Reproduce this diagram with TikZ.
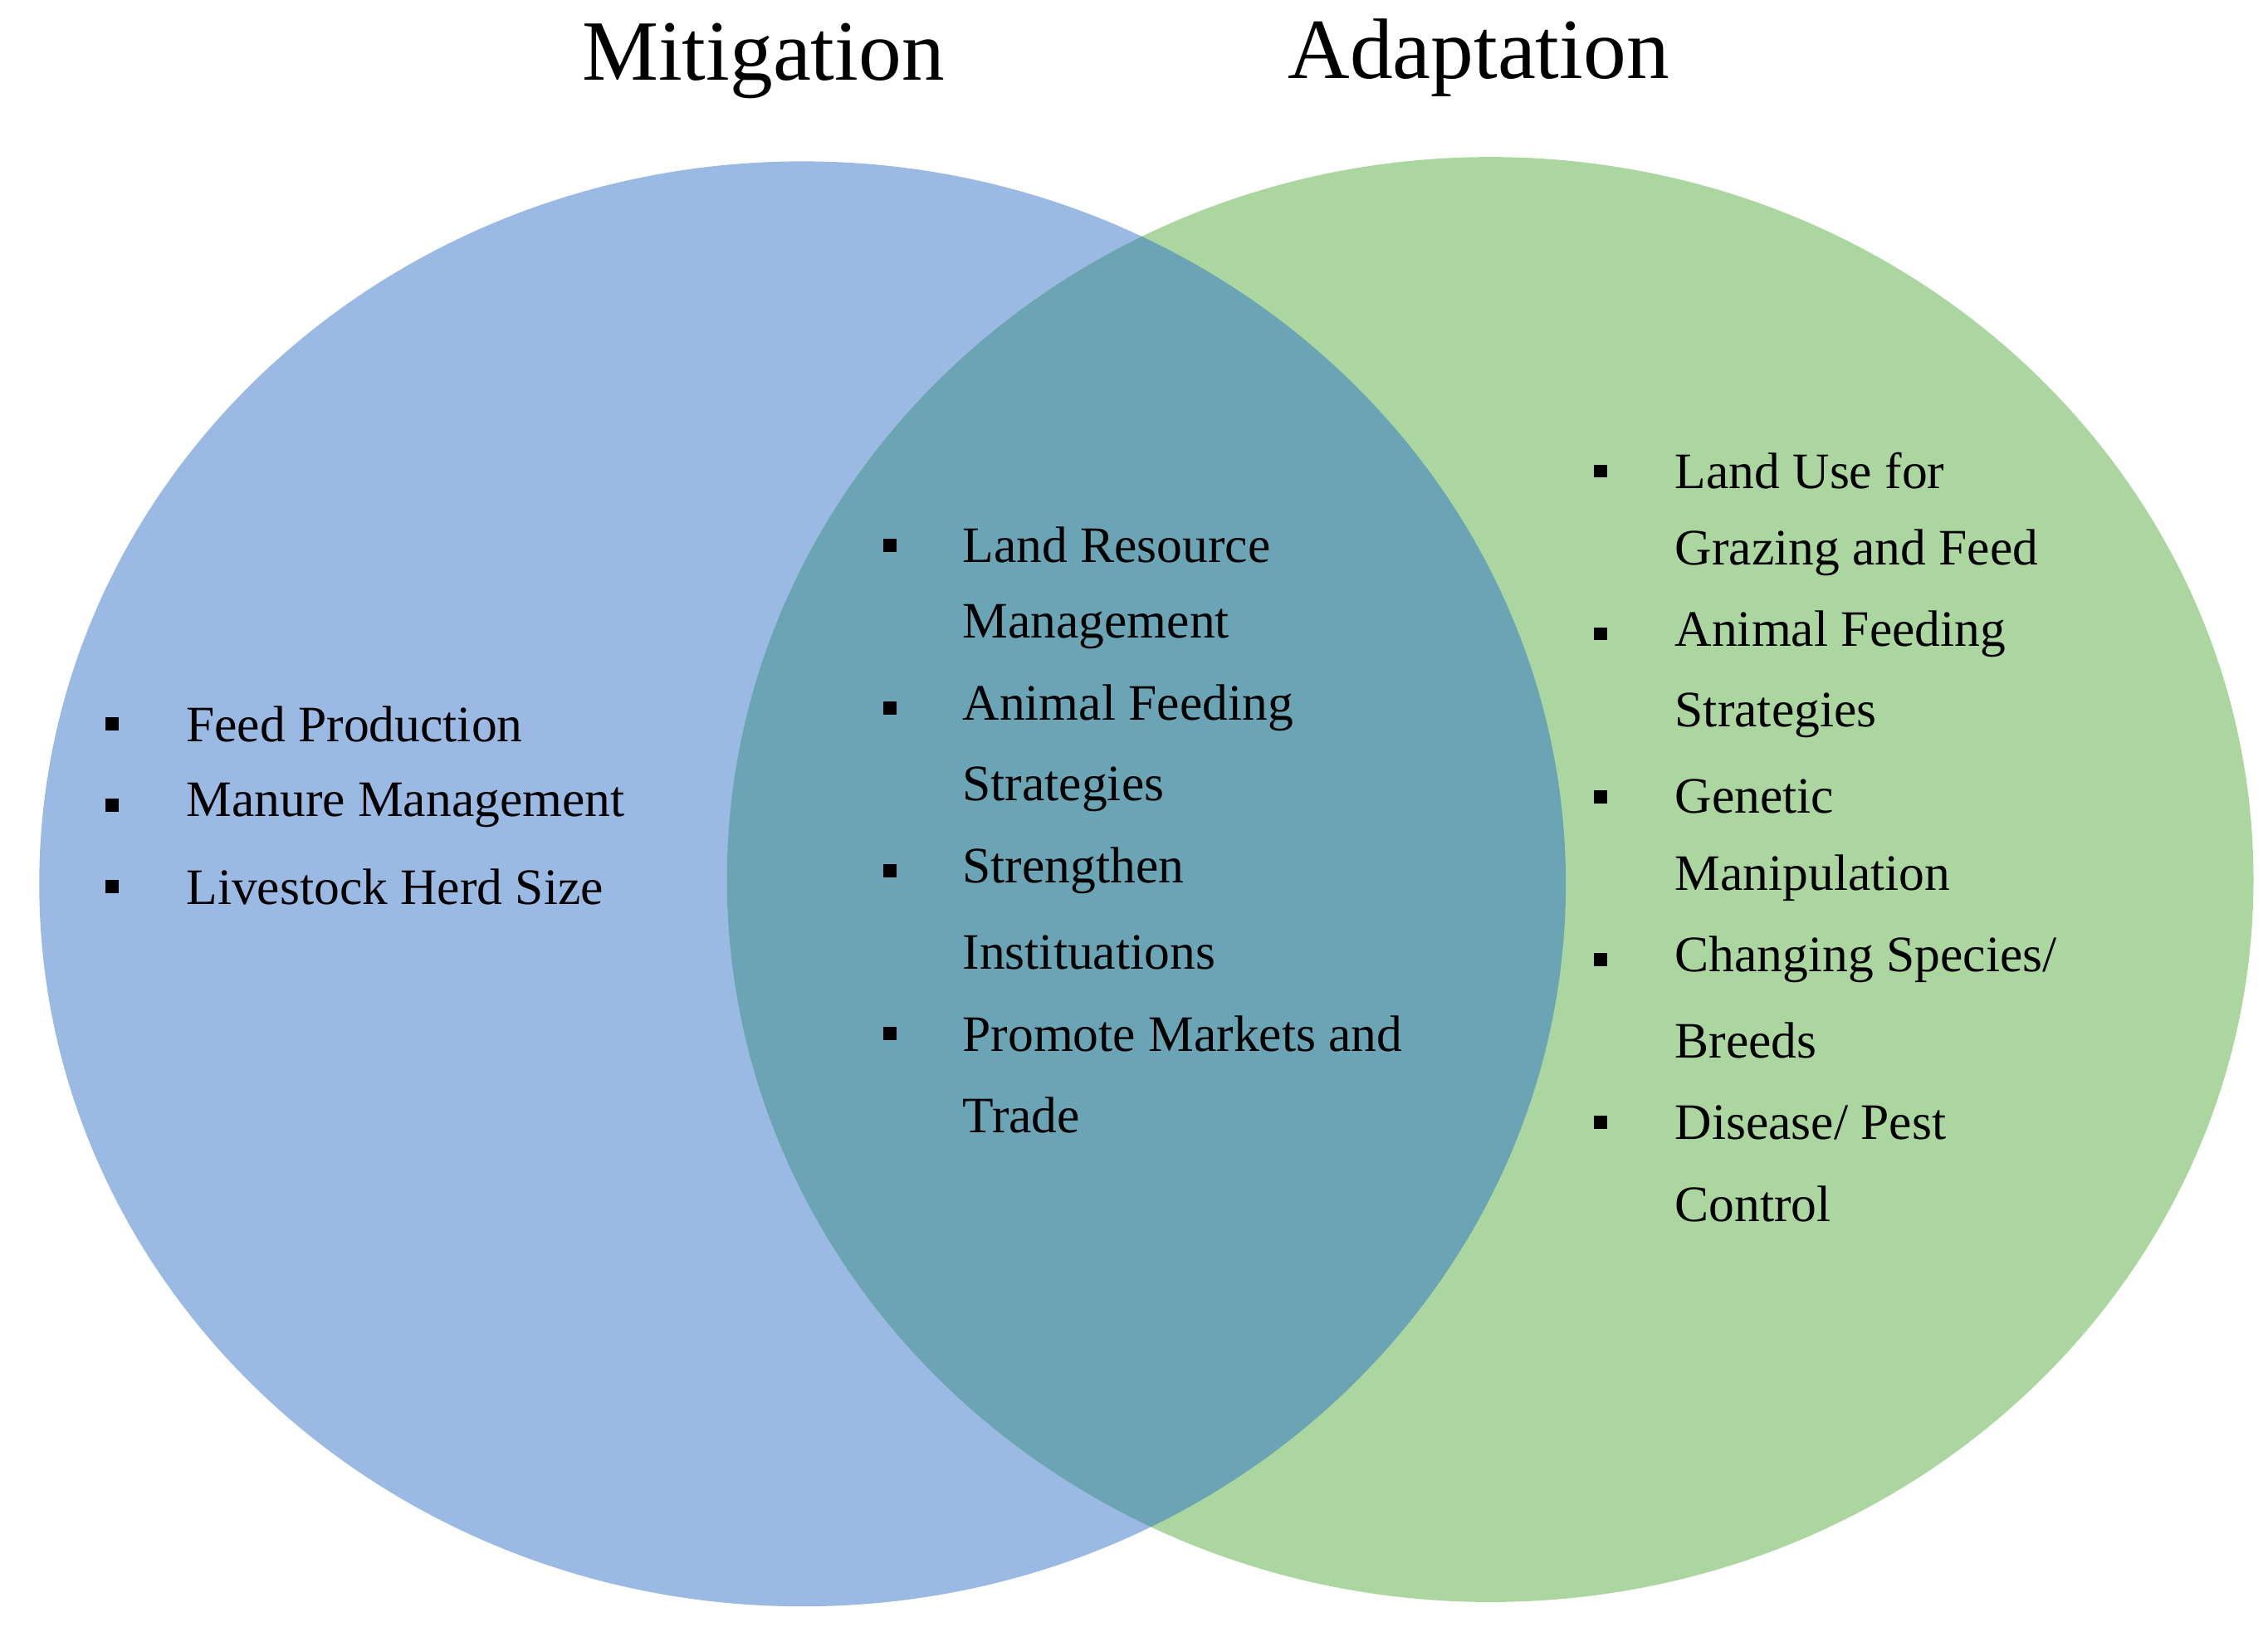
\documentclass[tikz,border=0pt]{standalone}
\usepackage{fontspec}
\setmainfont{Liberation Serif}
\begin{document}
\begin{tikzpicture}[x=0.05cm,y=-0.05cm,
  item/.style={anchor=west,inner sep=0pt,font=\fontsize{50}{60}\selectfont},
  title/.style={inner sep=0pt,font=\fontsize{84}{100}\selectfont},
  bul/.style={fill=black,minimum size=0.45cm,inner sep=0pt,draw=none}]
\useasboundingbox (0,0) rectangle (1560,1119);
\definecolor{cblue}{HTML}{9AB9E3}
\definecolor{cgreen}{HTML}{ABD6A0}
\definecolor{cmid}{HTML}{6BA5B5}
\fill[cblue] (552,608) ellipse [x radius=525, y radius=497];
\fill[cgreen] (1025,605) ellipse [x radius=525, y radius=497];
\begin{scope}
\clip (1025,605) ellipse [x radius=525, y radius=497];
\fill[cmid] (552,608) ellipse [x radius=525, y radius=497];
\end{scope}
\node[title] (tm) at (525,42) {Mitigation};
\node[title] (ta) at (1017,40) {Adaptation};
\foreach \t [count=\i] in {Feed Production,Manure Management,Livestock Herd Size}{
  \node[bul] (lb\i) at (77,{442+56*\i}) {};
  \node[item] (lt\i) at (128,{442+56*\i}) {\t};
}
\foreach \t [count=\i] in {Land Resource,Management,Animal Feeding,Strategies,Strengthen,Instituations,Promote Markets and,Trade}{
  \node[item] (mt\i) at (662,{319+56*\i}) {\t};
}
\foreach \i in {1,3,5,7}{\node[bul] (mb\i) at (612,{319+56*\i}) {};}
\foreach \t [count=\i] in {Land Use for,Grazing and Feed,Animal Feeding,Strategies,Genetic,Manipulation,Changing Species/,Breeds,Disease/ Pest,Control}{
  \node[item] (rt\i) at (1152,{268+56*\i}) {\t};
}
\foreach \i in {1,3,5,7,9}{\node[bul] (rb\i) at (1101,{268+56*\i}) {};}
\end{tikzpicture}
\end{document}
